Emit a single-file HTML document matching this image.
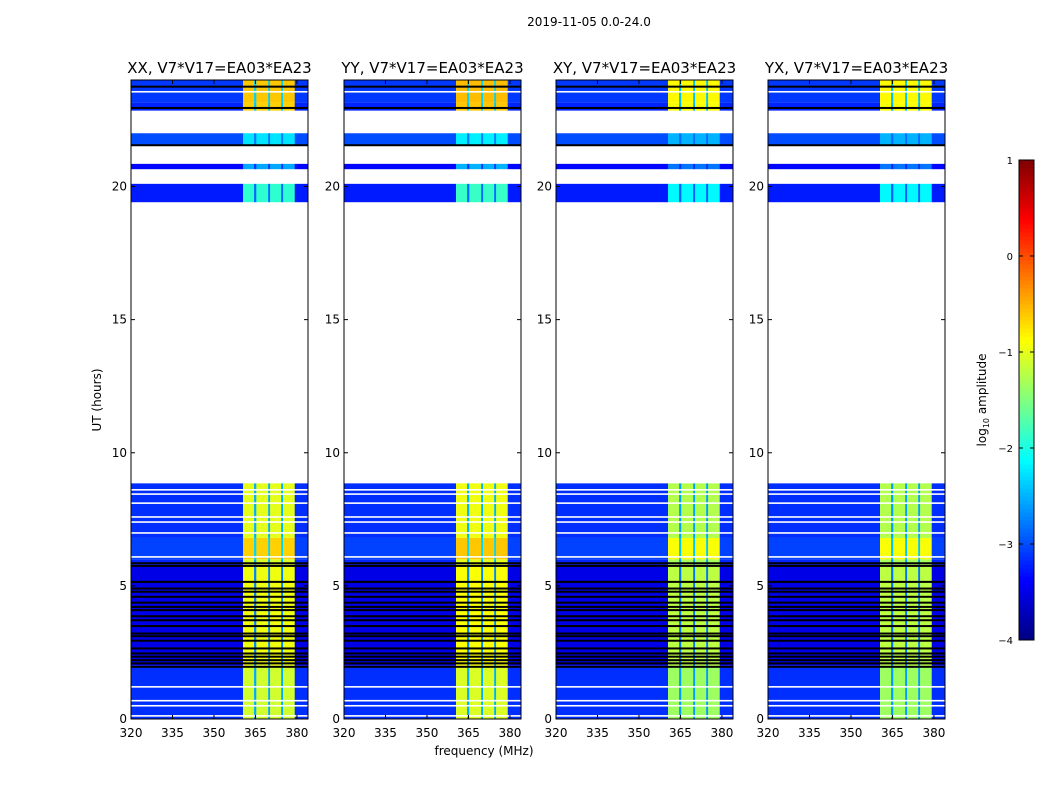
<!DOCTYPE html>
<html><head><meta charset="utf-8"><style>
body{margin:0;background:#fff;font-family:"Liberation Sans","DejaVu Sans",sans-serif}
svg text{font-family:"DejaVu Sans","Liberation Sans",sans-serif}
</style></head><body>
<svg id="fig" width="1050" height="800" xmlns="http://www.w3.org/2000/svg">
<rect width="1050" height="800" fill="#fff"/>
<text x="589" y="26" font-size="12" text-anchor="middle">2019-11-05 0.0-24.0</text>
<text x="484" y="755" font-size="12" text-anchor="middle">frequency (MHz)</text>
<text transform="translate(101,400) rotate(-90)" font-size="12" text-anchor="middle">UT (hours)</text>
<g id="panels"></g>
<g id="cbar"></g>
</svg>
<script>
const pols = ["XX","YY","XY","YX"];
const panelLeft = [131,344,556,768];
// frequency bands [startMHz,endMHz]
const bandStart = [320,360.5,364.5,365.3,369.6,370.3,374.3,375.0,379.2];
const bandEnd   = [360.5,364.5,365.3,369.6,370.3,374.3,375.0,379.2,384];
// high (RFI) band weights: 1 = bright, 0 = background
const bandBright = [0,1,0.3,1,0.3,1,0.3,1,0];
// per-polarisation log amplitude of bright bands
const polBright = [-0.95,-0.9,-1.2,-1.2];
// time segments with data [start,end] hours, background level, bright offset
const segStart = [0,2.0,5.8,6.0,6.8,19.41,20.65,21.55,22.85,23.15];
const segEnd   = [2.0,5.8,6.0,6.8,8.85,20.1,20.85,22.0,23.15,24];
const segBg    = [-3.15,-3.5,-3.2,-3.05,-3.15,-3.25,-3.35,-3.0,-3.2,-3.1];
const segHi    = [-0.15,0.0,-0.1,0.3,-0.05,-0.95,-1.6,-1.3,0.3,0.35];
// flagged lines (hours)
const whiteLines = [0.11,0.49,0.68,1.2,6.08,6.98,7.39,7.58,8.1,8.44,8.6,23.55];
const blackLines = [1.96,2.09,2.21,2.34,2.46,2.65,2.94,3.11,3.21,3.49,3.71,3.86,4.09,4.21,4.37,4.59,4.78,4.90,5.15,5.75,5.85,21.55,22.95,23.75];
const cbarTicks = [1,0,-1,-2,-3,-4];
const xTicks = [320,335,350,365,380];
const yTicks = [0,5,10,15,20];

const NS="http://www.w3.org/2000/svg";
const plotTop=80,plotBot=719,W=177;
const yS=h=>plotBot-(h/24)*(plotBot-plotTop);
const xS=(f,x0)=>x0+(f-320)/(384-320)*W;
function jet(v){v=Math.max(0,Math.min(1,v));
 const r=Math.max(0,Math.min(1,1.5-Math.abs(4*v-3))),g=Math.max(0,Math.min(1,1.5-Math.abs(4*v-2))),b=Math.max(0,Math.min(1,1.5-Math.abs(4*v-1)));
 return `rgb(${Math.round(r*255)},${Math.round(g*255)},${Math.round(b*255)})`;}
const col=l=>jet((l+4)/5);
function mk(tag,attrs,parent){const e=document.createElementNS(NS,tag);for(const k in attrs)e.setAttribute(k,attrs[k]);parent.appendChild(e);return e;}
const P=document.getElementById('panels');
pols.forEach((p,pi)=>{
 const x0=panelLeft[pi];
 const g=mk('g',{},P);
 
 
 segStart.forEach((s,si)=>{
  bandStart.forEach((b,bi)=>{
   const lvl=bandBright[bi]>0? segBg[si]+bandBright[bi]*(polBright[pi]+segHi[si]-segBg[si]) : segBg[si];
   const r=mk('rect',{x:xS(b,x0),y:yS(segEnd[si]),width:xS(bandEnd[bi],x0)-xS(b,x0)+0.3,height:yS(segStart[si])-yS(segEnd[si]),fill:col(lvl)},g);
   
   
  });
 });
 whiteLines.forEach(h=>{const r=mk('rect',{x:x0,y:yS(h)-1,width:W,height:1.6,fill:'#fff'},g);
  
  });
 blackLines.forEach(h=>{const r=mk('rect',{x:x0,y:yS(h)-1,width:W,height:2,fill:'#000'},g);
  
  });
 mk('rect',{x:x0,y:plotTop,width:W,height:plotBot-plotTop,fill:'none',stroke:'#000','stroke-width':1},g);
 const t=mk('text',{x:x0+W/2,y:73,'font-size':15,'text-anchor':'middle'},g);
 t.textContent=p+', V7*V17=EA03*EA23';
 
 
 xTicks.forEach(f=>{const x=xS(f,x0);
  mk('line',{x1:x,x2:x,y1:plotBot,y2:plotBot-4,stroke:'#000'},g);mk('line',{x1:x,x2:x,y1:plotTop,y2:plotTop+4,stroke:'#000'},g);
  const tt=mk('text',{x:x,y:737,'font-size':12,'text-anchor':'middle'},g);tt.textContent=f;
  
  });
 yTicks.forEach(h=>{const y=yS(h);
  mk('line',{x1:x0,x2:x0+4,y1:y,y2:y,stroke:'#000'},g);mk('line',{x1:x0+W,x2:x0+W-4,y1:y,y2:y,stroke:'#000'},g);
  const tt=mk('text',{x:x0-4,y:y+4,'font-size':12,'text-anchor':'end'},g);tt.textContent=h;
  
  });
});
// colorbar
const C=document.getElementById('cbar');
const cx=1019,cw=15,ct=160,cb=640;
for(let i=0;i<120;i++){const l=-4+5*i/120;const y0=cb-(i+1)*(cb-ct)/120;
 mk('rect',{x:cx,y:y0,width:cw,height:(cb-ct)/120+0.5,fill:col(l+2.5/120)},C);}
mk('rect',{x:cx,y:ct,width:cw,height:cb-ct,fill:'none',stroke:'#000'},C);


cbarTicks.forEach(v=>{const y=cb-(v+4)/5*(cb-ct);
 mk('line',{x1:cx,x2:cx+4,y1:y,y2:y,stroke:'#000'},C);mk('line',{x1:cx+cw,x2:cx+cw-4,y1:y,y2:y,stroke:'#000'},C);
 const t=mk('text',{x:1013,y:y+4,'font-size':10,'text-anchor':'end'},C);t.textContent=(v<0?'\u2212'+(-v):v);
 
 });
const lab=mk('text',{transform:'translate(986,400) rotate(-90)','font-size':12,'text-anchor':'middle'},C);
lab.innerHTML='log<tspan font-size="8" dy="3">10</tspan><tspan dy="-3"> amplitude</tspan>';


</script>
</body></html>
